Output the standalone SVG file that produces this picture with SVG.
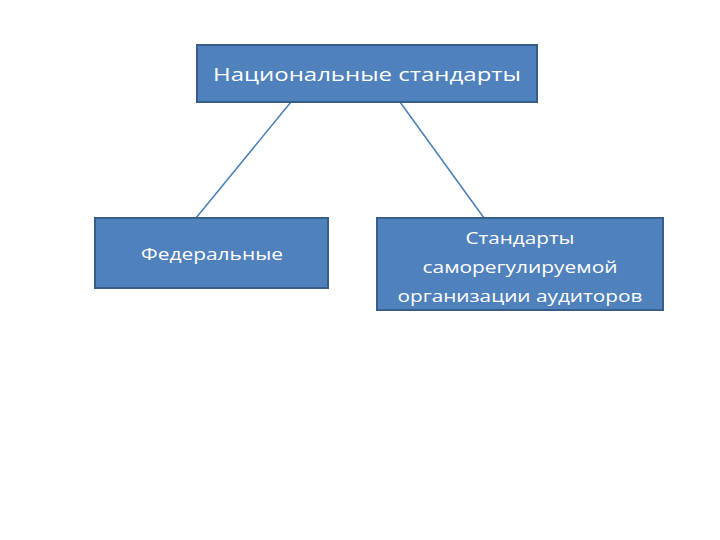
<svg xmlns="http://www.w3.org/2000/svg" width="720" height="540" viewBox="0 0 720 540">
<style>
.box{fill:#4F81BD;stroke:#385D8A;stroke-width:2}
.t{fill:#FFFFFF;font-family:"Open Sans","Liberation Sans",sans-serif;text-anchor:middle}
.c{stroke:#4A7EBB;stroke-width:1.5;fill:none}
</style>
<rect width="720" height="540" fill="#FFFFFF"/>
<g id="connectors">
<line class="c" x1="291" y1="102" x2="196" y2="218"/>
<line class="c" x1="400" y1="102" x2="484" y2="218"/>
</g>
<g id="node-national">
<rect class="box" x="197" y="45" width="340" height="57"/>
<text class="t" x="367" y="81" font-size="19" textLength="308" lengthAdjust="spacingAndGlyphs">Национальные стандарты</text>
</g>
<g id="node-federal">
<rect class="box" x="95" y="218" width="233" height="70"/>
<text class="t" x="212" y="260" font-size="17" textLength="142" lengthAdjust="spacingAndGlyphs">Федеральные</text>
</g>
<g id="node-sro">
<rect class="box" x="377" y="218" width="286" height="92"/>
<text class="t" x="520" y="244" font-size="17" textLength="109" lengthAdjust="spacingAndGlyphs">Стандарты</text>
<text class="t" x="520" y="273" font-size="17" textLength="195" lengthAdjust="spacingAndGlyphs">саморегулируемой</text>
<text class="t" x="520" y="302" font-size="17" textLength="245" lengthAdjust="spacingAndGlyphs">организации аудиторов</text>
</g>
</svg>
